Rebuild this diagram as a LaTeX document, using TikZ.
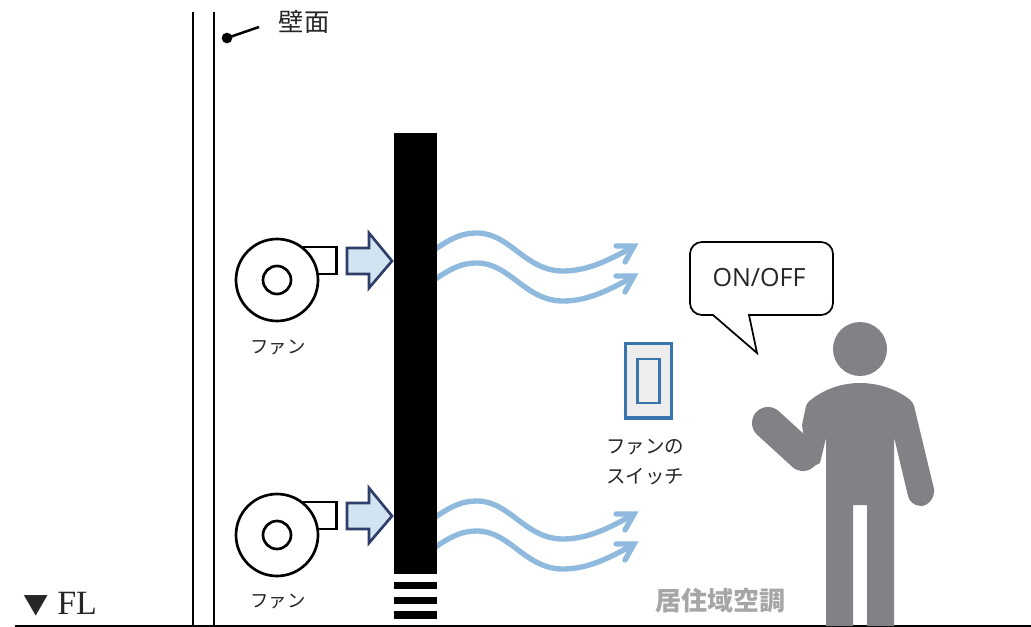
\documentclass[tikz,border=0pt]{standalone}
\usepackage{fontspec}
\setmainfont{Open Sans}
\newfontfamily\cjk{Noto Sans CJK JP}
\newfontfamily\flserif{Liberation Serif}
\definecolor{wavecol}{HTML}{8FB9DD}
\definecolor{arrowfill}{HTML}{D2E3F1}
\definecolor{arrowline}{HTML}{2F3D69}
\definecolor{switchline}{HTML}{3775AC}
\definecolor{switchfill}{HTML}{EDEDED}
\definecolor{personcol}{HTML}{808285}
\definecolor{zonecol}{HTML}{A6A6A6}
\tikzset{
  x=0.75pt,y=-0.75pt,
  wallline/.style={draw=black,line width=2.2pt},
  fanline/.style={draw=black,line width=2pt,fill=white},
  label/.style={font=\cjk\fontsize{14.6}{22.5}\selectfont,inner sep=0pt,align=center,text=black!85},
  fanlabel/.style={font=\cjk\fontsize{13.8}{22}\selectfont,inner sep=0pt,text=black!85},
  wave/.style={draw=wavecol,line width=4pt,line cap=round},
  wavehead/.style={draw=wavecol,line width=4pt,line cap=round,line join=miter,miter limit=10},
  pics/fan/.style={code={
    \draw[fanline] (27,-33) rectangle (59.5,-6);
    \draw[fanline] (0,0) circle (41);
    \draw[fanline] (0,0) circle (14);
    \draw[draw=arrowline,line width=2pt,fill=arrowfill,line join=miter]
      (70,-32) -- (92,-32) -- (92,-47) -- (115,-19) -- (92,8) -- (92,-6) -- (70,-6) -- cycle;
  }},
  pics/waves/.style={code={
    \foreach \d in {0,30}{
      \draw[wave] (-6,{\d+4}) -- (0,\d) .. controls (15,{\d-10}) and (25,{\d-15}) .. (40,{\d-15})
        .. controls (73,{\d-15}) and (88,{\d+23}) .. (126,{\d+23})
        .. controls (153,{\d+23}) and (175,{\d+10}) .. (196,{\d-1});
      \draw[wavehead] (179,{\d-2}) -- (197,{\d-2}) -- (188,{\d+14});
    }
  }}
}
\begin{document}
\begin{tikzpicture}
\useasboundingbox (0,0) rectangle (1031,627);
% walls and floor
\coordinate (wallAtop) at (193,12); \coordinate (wallAbot) at (193,625);
\coordinate (wallBtop) at (214,12); \coordinate (wallBbot) at (214,625);
\coordinate (floorL) at (15,626); \coordinate (floorR) at (1031,626);
\draw[wallline] (wallAtop) -- (wallAbot);
\draw[wallline] (wallBtop) -- (wallBbot);
\draw[draw=black,line width=1.1pt] (floorL) -- (floorR);
% wall label
\node[circle,fill=black,minimum size=8pt,inner sep=0pt] (dot) at (227,38) {};
\coordinate (leaderEnd) at (259,27);
\draw[line width=1.9pt] (dot.center) -- (leaderEnd);
\node[label,font=\cjk\fontsize{19}{22}\selectfont] (wallLabel) at (304,22) {壁面};
% air flows
\pic at (437,248) {waves};
\pic at (437,516) {waves};
% black bar
\fill[black] (394,133) rectangle (437,574);
\fill[black] (394,581.5) rectangle (437,589);
\fill[black] (394,597) rectangle (437,604);
\fill[black] (394,611) rectangle (437,618.5);
% fans
\pic at (277,280) {fan};
\pic at (277,535) {fan};
\node[fanlabel] (fanA) at (278,347) {ファン};
\node[fanlabel] (fanB) at (278,601) {ファン};
% switch
\draw[draw=switchline,line width=2.4pt,fill=switchfill] (625.5,343.5) rectangle (671.5,418);
\draw[draw=switchline,line width=2pt,fill=switchfill] (637.5,359) rectangle (659.5,403);
\node[label] (switchLabel) at (645,462) {ファンの\\スイッチ};
% balloon
\draw[draw=black,line width=1.3pt,fill=white,line join=miter,rounded corners=0pt]
  (702,242) -- (821,242) arc[start angle=-90,end angle=0,radius=12] -- (833,303)
  arc[start angle=0,end angle=90,radius=12] -- (749,315) -- (757,353) -- (713,315) -- (702,315)
  arc[start angle=90,end angle=180,radius=12] -- (690,254)
  arc[start angle=180,end angle=270,radius=12] -- cycle;
\node[inner sep=0pt,font=\fontsize{18.8}{20}\selectfont,text=black!85] (onoff) at (759,278) {ON/OFF};
% person
\fill[personcol] (860,349) circle (27);
\fill[personcol] (826,626) -- (826,438) -- (820,463) -- (810,468) -- (803,432) -- (802,425)
  -- (806,406) .. controls (808,401) and (810,401) .. (812,399)
  .. controls (825,389) and (842,383) .. (860,383)
  .. controls (878,383) and (896,389) .. (909,399)
  .. controls (913,402) and (914,405) .. (915,410)
  -- (934,489) .. controls (935,498) and (928,506) .. (921,506)
  .. controls (914,506) and (909,501) .. (908,496)
  -- (894,437) -- (894,626) -- (867,626) -- (867,505) -- (853,505) -- (853,626) -- cycle;
\draw[personcol,line width=24pt,line cap=round] (768,423) -- (803,455);
% texts
\node[inner sep=0pt,anchor=base west,text=black!85] (floorLabel) at (23,614)
  {\cjk\fontsize{19}{20}\selectfont ▼\hspace{6.5pt}\flserif\fontsize{25.5}{24}\selectfont FL};
\node[inner sep=0pt,text=zonecol,font=\cjk\bfseries\fontsize{19.5}{22}\selectfont] (zone) at (720,601) {居住域空調};
\end{tikzpicture}
\end{document}
